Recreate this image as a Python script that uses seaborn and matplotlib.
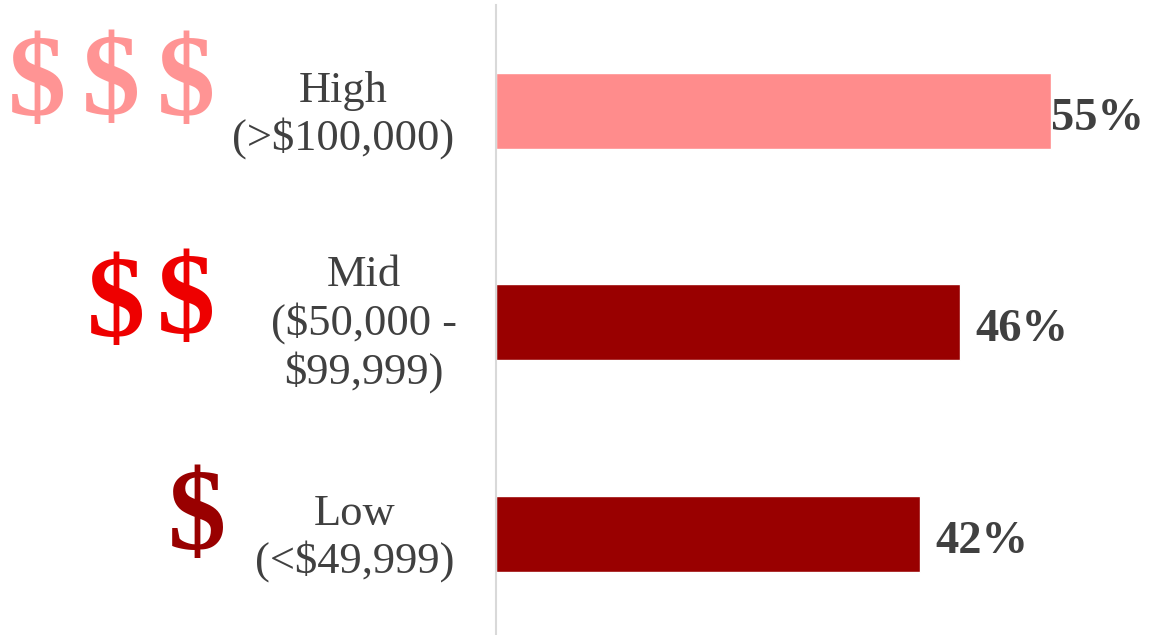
import matplotlib
matplotlib.use("Agg")
import matplotlib.pyplot as plt
import pandas as pd
import seaborn as sns

categories = ["High\n(>$100,000)", "Mid\n($50,000 -\n$99,999)", "Low\n(<$49,999)"]
values = [55, 46, 42]
value_labels = ["55%", "46%", "42%"]
bar_colors = ["#FF8C8C", "#990000", "#990000"]
icon_colors = ["#FF9494", "#FF9494", "#FF9494", "#EE0000", "#EE0000", "#990000"]

sns.set_theme(style="white")
serif = ["Liberation Serif", "DejaVu Serif"]
W, H = 1153, 635
fig = plt.figure(figsize=(W / 100, H / 100), dpi=100)
ax = fig.add_axes([496 / W, 0, (W - 496) / W, 1 - 5 / H])
df = pd.DataFrame({"cat": categories, "val": values})
sns.barplot(data=df, y="cat", x="val", hue="cat", palette=bar_colors, legend=False,
            width=0.36, saturation=1, ax=ax)
ax.set_xlim(0, 65.1)
ax.set_ylim(2.478, -0.501)
ax.set_xlabel("")
ax.set_ylabel("")
ax.set_xticks([])
ax.set_yticks([])
for s in ["top", "right", "bottom"]:
    ax.spines[s].set_visible(False)
ax.spines["left"].set_color("#D9D9D9")
ax.spines["left"].set_linewidth(1.5)

label_off = [0, 1.5, 1.5]
for i, (v, t) in enumerate(zip(values, value_labels)):
    ax.text(v + label_off[i], i + 0.036, t, va="center", ha="left", family=serif, weight="bold",
            fontsize=33.5, color="#404040")

cat_x = [343, 364, 355]
cat_y = [115, 324, 538]
for c, x, y in zip(categories, cat_x, cat_y):
    fig.text(x / W, 1 - y / H, c, ha="center", va="center", family=serif, fontsize=32,
             color="#404040", linespacing=1.21)

icon_x = [37, 111, 186, 116, 186, 197]
icon_y = [87, 86, 87, 308, 305, 521]
for c, x, y in zip(icon_colors, icon_x, icon_y):
    fig.text(x / W, 1 - y / H, r"\$", ha="center", va="center", family=serif, weight="bold",
             fontsize=84, color=c)

fig.savefig("out.png", dpi=100)
